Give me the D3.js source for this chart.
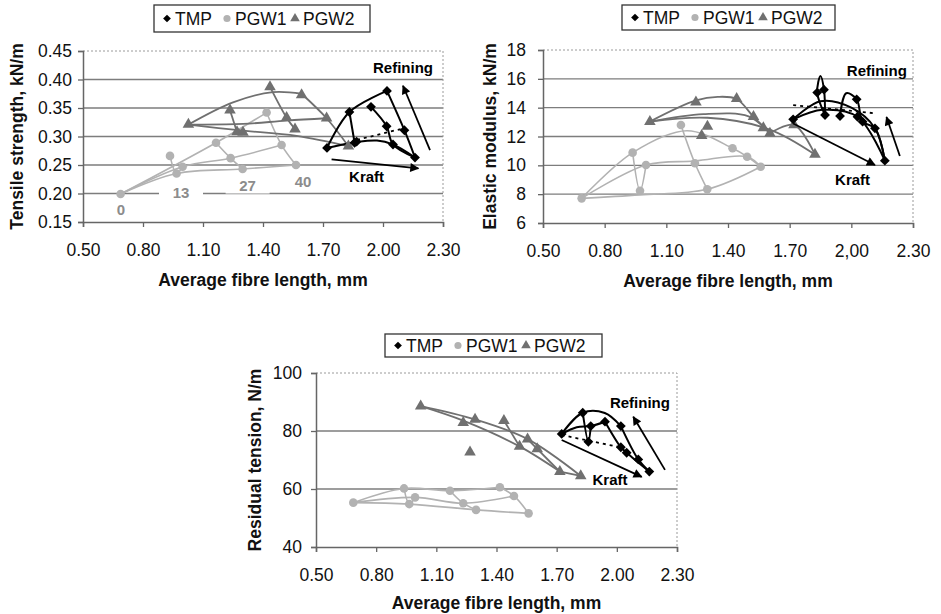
<!DOCTYPE html>
<html lang="en">
<head>
<meta charset="UTF-8">
<title>Fibre length charts</title>
<script src="https://d3js.org/d3.v7.min.js"></script>
<style>
    body { margin: 0; background: #fff; }
    svg text { font-family: "Liberation Sans", Arial, sans-serif; }
</style>
</head>
<body>
<svg id="chart" width="941" height="614"></svg>
<script>
    // shared x axis
    var xTicks = [0.5, 0.8, 1.1, 1.4, 1.7, 2.0, 2.3];
    var xLabels = ["0.50", "0.80", "1.10", "1.40", "1.70", "2.00", "2.30"];
    var xLabelsComma = ["0.50", "0.80", "1.10", "1.40", "1.70", "2,00", "2.30"];
    var seriesNames = ["TMP", "PGW1", "PGW2"];

    // ---- tensile strength, kN/m
    var tensileTicks = [0.15, 0.20, 0.25, 0.30, 0.35, 0.40, 0.45];
    var tensileLabels = ["0.15", "0.20", "0.25", "0.30", "0.35", "0.40", "0.45"];
    var tensileTMP = [[1.72, 0.28], [1.832, 0.343], [1.858, 0.289], [1.868, 0.291], [1.94, 0.352], [2.018, 0.318],
        [2.05, 0.286], [2.02, 0.38], [2.107, 0.311], [2.16, 0.263]];
    var tensileTMPLines = [
        [[1.72, 0.28], [1.832, 0.343], [2.02, 0.38]],
        [[2.02, 0.38], [2.107, 0.311], [2.16, 0.263]],
        [[1.832, 0.343], [1.858, 0.289]],
        [[1.94, 0.352], [2.018, 0.318], [2.05, 0.286], [2.16, 0.263]],
        [[1.72, 0.28], [1.863, 0.29], [1.97, 0.293], [2.05, 0.286], [2.16, 0.263]]
    ];
    var tensilePGW1 = [[0.688, 0.199], [0.935, 0.266], [0.998, 0.247], [0.968, 0.235], [1.165, 0.289], [1.238, 0.262],
        [1.298, 0.243], [1.418, 0.342], [1.493, 0.285], [1.565, 0.25]];
    var tensilePGW1Lines = [
        [[0.688, 0.199], [1.165, 0.289], [1.418, 0.342]],
        [[0.688, 0.199], [0.998, 0.247], [1.238, 0.262], [1.493, 0.285]],
        [[0.688, 0.199], [0.968, 0.235], [1.298, 0.243], [1.565, 0.25]],
        [[0.935, 0.266], [0.968, 0.235], [0.998, 0.247]],
        [[1.165, 0.289], [1.238, 0.262], [1.298, 0.243]],
        [[1.418, 0.342], [1.493, 0.285], [1.565, 0.25]]
    ];
    var tensilePGW2 = [[1.027, 0.321], [1.235, 0.346], [1.27, 0.308], [1.30, 0.307], [1.435, 0.387], [1.518, 0.333],
        [1.56, 0.313], [1.593, 0.373], [1.718, 0.332], [1.827, 0.283]];
    var tensilePGW2Lines = [
        [[1.027, 0.321], [1.25, 0.36], [1.45, 0.378], [1.593, 0.375]],
        [[1.593, 0.375], [1.718, 0.332], [1.827, 0.283]],
        [[1.435, 0.387], [1.518, 0.333], [1.56, 0.313]],
        [[1.235, 0.346], [1.27, 0.308]],
        [[1.027, 0.321], [1.3, 0.322], [1.518, 0.328], [1.718, 0.332]],
        [[1.027, 0.321], [1.277, 0.311], [1.568, 0.301], [1.827, 0.283]]
    ];
    var tensileDotted = [[1.87, 0.294], [2.11, 0.315]];
    var tensileArrows = [[[2.235, 0.276], [2.10, 0.389]], [[1.743, 0.26], [2.177, 0.244]]];
    var tensileNotes = [["Refining", 2.10, 0.42], ["Kraft", 1.918, 0.229]];
    var kraftLabels = ["0", "13", "27", "40"];
    var kraftLabelAt = [[0.69, 0.171], [0.99, 0.201], [1.323, 0.214], [1.60, 0.221]];

    // ---- elastic modulus, kN/m
    var modulusTicks = [6, 8, 10, 12, 14, 16, 18];
    var modulusLabels = ["6", "8", "10", "12", "14", "16", "18"];
    var modulusTMP = [[1.717, 13.19], [1.834, 15.05], [1.867, 15.25], [1.872, 13.49], [1.945, 13.42], [2.026, 14.58],
        [2.03, 13.37], [2.055, 13.03], [2.115, 12.57], [2.163, 10.32]];
    var modulusTMPLines = [
        [[1.717, 13.19], [1.85, 14.45], [2.0, 14.0], [2.115, 12.57], [2.163, 10.32]],
        [[1.717, 13.19], [1.86, 13.85], [2.03, 13.37], [2.163, 10.32]],
        [[1.872, 13.49], [1.834, 15.05], [1.85, 16.2], [1.867, 15.25], [1.872, 13.49]],
        [[1.945, 13.42], [1.975, 15.0], [2.026, 14.58], [2.055, 13.03], [2.115, 12.57], [2.163, 10.32]]
    ];
    var modulusPGW1 = [[0.688, 7.71], [0.936, 10.88], [1.001, 10.02], [0.972, 8.24], [1.171, 12.8], [1.239, 10.14],
        [1.299, 8.34], [1.422, 11.18], [1.493, 10.6], [1.559, 9.9]];
    var modulusPGW1Lines = [
        [[0.688, 7.71], [0.936, 10.88], [1.2, 12.4], [1.422, 11.18], [1.493, 10.6], [1.559, 9.9]],
        [[0.688, 7.71], [1.001, 10.02], [1.239, 10.3], [1.493, 10.6], [1.559, 9.9]],
        [[0.688, 7.71], [0.972, 7.95], [1.299, 8.34], [1.559, 9.9]],
        [[0.936, 10.88], [0.972, 8.24], [1.001, 10.02]],
        [[1.171, 12.8], [1.239, 10.14], [1.299, 8.34]]
    ];
    var modulusPGW2 = [[1.02, 13.03], [1.244, 14.38], [1.442, 14.62], [1.3, 12.7], [1.272, 12.05], [1.524, 13.37],
        [1.572, 12.6], [1.604, 12.22], [1.721, 12.8], [1.823, 10.75]];
    var modulusPGW2Lines = [
        [[1.02, 13.03], [1.244, 14.5], [1.35, 14.75], [1.442, 14.6], [1.524, 13.37], [1.604, 12.22]],
        [[1.02, 13.03], [1.28, 13.55], [1.5, 13.4], [1.604, 12.22]],
        [[1.02, 13.03], [1.3, 13.3], [1.6, 12.5], [1.823, 10.75]],
        [[1.604, 12.22], [1.721, 12.8], [1.823, 10.75]]
    ];
    var modulusDotted = [[1.717, 14.18], [2.122, 13.6]];
    var modulusArrows = [[[2.236, 10.65], [2.171, 13.35]], [[1.717, 12.9], [2.115, 10.02]]];
    var modulusNotes = [["Refining", 2.124, 16.56], ["Kraft", 2.006, 8.98]];

    // ---- residual tension, N/m
    var residualTicks = [40, 60, 80, 100];
    var residualLabels = ["40", "60", "80", "100"];
    var residualTMP = [[1.725, 79], [1.83, 86.3], [1.87, 81.7], [1.858, 76.3], [1.941, 83.2], [2.02, 81.7],
        [2.02, 74.4], [2.049, 72.5], [2.107, 70.2], [2.162, 66]];
    var residualTMPLines = [
        [[1.725, 79], [1.83, 86.3], [1.94, 86.2], [2.02, 81.7]],
        [[2.02, 81.7], [2.107, 70.2], [2.162, 66]],
        [[1.725, 79], [1.8, 81.3], [1.87, 81.7], [1.941, 83.2]],
        [[1.941, 83.2], [2.02, 74.4], [2.049, 72.5], [2.162, 66]],
        [[1.83, 86.3], [1.858, 76.3], [1.87, 81.7]]
    ];
    var residualPGW1 = [[0.686, 55.3], [0.939, 60.2], [0.994, 57.1], [0.965, 54.8], [1.168, 59.4], [1.234, 55.1],
        [1.298, 52.8], [1.417, 60.6], [1.487, 57.6], [1.56, 51.6]];
    var residualPGW1Lines = [
        [[0.686, 55.3], [0.939, 60.2], [1.168, 59.4], [1.417, 60.6]],
        [[0.686, 55.3], [0.994, 57.1], [1.234, 55.1], [1.487, 57.6]],
        [[0.686, 55.3], [0.965, 54.8], [1.298, 52.8], [1.56, 51.6]],
        [[0.939, 60.2], [0.965, 54.8], [0.994, 57.1]],
        [[1.168, 59.4], [1.234, 55.1], [1.298, 52.8]],
        [[1.417, 60.6], [1.487, 57.6], [1.56, 51.6]]
    ];
    var residualPGW2 = [[1.022, 88.6], [1.234, 82.9], [1.293, 84], [1.437, 83.6], [1.268, 72.7], [1.515, 74.7],
        [1.555, 77.2], [1.603, 73.8], [1.716, 66], [1.82, 64.5]];
    var residualPGW2Lines = [
        [[1.022, 88.6], [1.293, 84], [1.555, 77.2], [1.82, 64.5]],
        [[1.022, 88.6], [1.234, 83.6], [1.515, 74.7], [1.716, 66]],
        [[1.716, 66], [1.82, 64.5]],
        [[1.437, 83.6], [1.515, 74.7]],
        [[1.555, 77.2], [1.603, 73.8], [1.716, 66]]
    ];
    var residualDotted = [[1.725, 78.6], [2.016, 74.4]];
    var residualArrows = [[[2.24, 66.6], [2.082, 84.9]], [[1.725, 76.9], [2.124, 64.2]]];
    var residualNotes = [["Refining", 2.115, 89.8], ["Kraft", 1.966, 63.3]];

    var colours = {TMP: "#000", PGW1: "#b2b2b2", PGW2: "#707070"};
    var widths = {TMP: 2, PGW1: 1.6, PGW2: 1.8};
    var symbols = {TMP: d3.symbolSquare, PGW1: d3.symbolCircle, PGW2: d3.symbolTriangle};
    var turn = {TMP: 45, PGW1: 0, PGW2: 0};

    var panels = [
        {left: 83, right: 443, top: 51, bottom: 222, yTicks: tensileTicks, yLabels: tensileLabels, xLabels: xLabels,
         yTitle: "Tensile strength, kN/m", titleX: 17, labelGap: 6, legend: [154, 5, 216, 27],
         series: {TMP: [tensileTMP, tensileTMPLines], PGW1: [tensilePGW1, tensilePGW1Lines], PGW2: [tensilePGW2, tensilePGW2Lines]},
         dotted: tensileDotted, arrows: tensileArrows, notes: tensileNotes, xTitleY: 286},
        {left: 543, right: 913, top: 50, bottom: 223, yTicks: modulusTicks, yLabels: modulusLabels, xLabels: xLabelsComma,
         yTitle: "Elastic modulus, kN/m", titleX: 490, labelGap: 12, legend: [622, 5, 213, 25],
         series: {TMP: [modulusTMP, modulusTMPLines], PGW1: [modulusPGW1, modulusPGW1Lines], PGW2: [modulusPGW2, modulusPGW2Lines]},
         dotted: modulusDotted, arrows: modulusArrows, notes: modulusNotes, xTitleY: 287},
        {left: 316, right: 677, top: 373, bottom: 547, yTicks: residualTicks, yLabels: residualLabels, xLabels: xLabels,
         yTitle: "Residual tension, N/m", titleX: 255, labelGap: 9, legend: [385, 334, 217, 23],
         series: {TMP: [residualTMP, residualTMPLines], PGW1: [residualPGW1, residualPGW1Lines], PGW2: [residualPGW2, residualPGW2Lines]},
         dotted: residualDotted, arrows: residualArrows, notes: residualNotes, xTitleY: 609}
    ];

    var svg = d3.select("#chart");

    svg.append("defs").append("marker")
        .attr("id", "head")
        .attr("viewBox", "0 0 10 10")
        .attr("refX", 9).attr("refY", 5)
        .attr("markerWidth", 6).attr("markerHeight", 5)
        .attr("markerUnits", "strokeWidth")
        .attr("orient", "auto")
        .append("path").attr("d", "M0,0 L10,5 L0,10 z").attr("fill", "#000");

    panels.forEach(function(p, pi) {
        var g = svg.append("g");
        var x = d3.scaleLinear().domain([0.5, 2.3]).range([p.left, p.right]);
        var yDom = d3.extent(p.yTicks);
        var y = d3.scaleLinear().domain(yDom).range([p.bottom, p.top]);

        // gridlines
        g.selectAll("line.grid")
            .data(p.yTicks.slice(1, -1))
            .join("line")
            .attr("x1", p.left).attr("x2", p.right)
            .attr("y1", d => y(d)).attr("y2", d => y(d))
            .attr("stroke", "#7d7d7d").attr("stroke-width", 1.3);

        // dashed plot border (top, right)
        g.append("path")
            .attr("d", "M" + p.left + "," + y(yDom[1]) + "H" + p.right + "V" + p.bottom)
            .attr("fill", "none").attr("stroke", "#9a9a9a").attr("stroke-width", 1)
            .attr("stroke-dasharray", "2,2");

        // axes
        var ya = g.append("g")
            .attr("transform", "translate(" + p.left + ",0)")
            .call(d3.axisLeft(y).tickValues(p.yTicks).tickFormat((d, i) => p.yLabels[i])
                .tickSize(5).tickPadding(p.labelGap));
        var xa = g.append("g")
            .attr("transform", "translate(0," + p.bottom + ")")
            .call(d3.axisBottom(x).tickValues(xTicks).tickFormat((d, i) => p.xLabels[i])
                .tickSize(5).tickPadding(17));
        [ya, xa].forEach(function(a) {
            a.select(".domain").attr("stroke", "#666").attr("stroke-width", 1.5);
            a.selectAll(".tick line").attr("stroke", "#666").attr("stroke-width", 1.3);
            a.selectAll("text").attr("font-size", 17.5).attr("fill", "#111")
                .attr("font-family", "Liberation Sans, Arial, sans-serif");
        });

        // axis titles
        g.append("text")
            .attr("transform", "translate(" + p.titleX + "," + ((p.top + p.bottom) / 2) + ") rotate(-90)")
            .attr("text-anchor", "middle").attr("dy", "0.35em")
            .attr("font-size", 17.5).attr("font-weight", "bold").attr("fill", "#111")
            .text(p.yTitle);
        g.append("text")
            .attr("x", (p.left + p.right) / 2).attr("y", p.xTitleY)
            .attr("text-anchor", "middle")
            .attr("font-size", 17.5).attr("font-weight", "bold").attr("fill", "#111")
            .text("Average fibre length, mm");

        // series lines
        var line = d3.line().x(d => x(d[0])).y(d => y(d[1])).curve(d3.curveCatmullRom.alpha(0.5));
        ["PGW1", "PGW2", "TMP"].forEach(function(s) {
            g.append("g").selectAll("path")
                .data(p.series[s][1])
                .join("path")
                .attr("d", line)
                .attr("fill", "none")
                .attr("stroke", colours[s])
                .attr("stroke-width", widths[s]);
        });

        // dotted line
        g.append("path")
            .attr("d", d3.line().x(d => x(d[0])).y(d => y(d[1]))(p.dotted))
            .attr("stroke", "#000").attr("stroke-width", 1.8)
            .attr("stroke-dasharray", "3,4").attr("fill", "none");

        // markers
        ["PGW1", "PGW2", "TMP"].forEach(function(s) {
            g.append("g").selectAll("path")
                .data(p.series[s][0])
                .join("path")
                .attr("transform", d => "translate(" + x(d[0]) + "," + y(d[1]) + ") rotate(" + turn[s] + ")")
                .attr("d", d3.symbol().type(symbols[s]).size(s == "TMP" ? 48 : 58))
                .attr("fill", colours[s]);
        });

        // arrows
        g.append("g").selectAll("line")
            .data(p.arrows)
            .join("line")
            .attr("x1", d => x(d[0][0])).attr("y1", d => y(d[0][1]))
            .attr("x2", d => x(d[1][0])).attr("y2", d => y(d[1][1]))
            .attr("stroke", "#000").attr("stroke-width", 1.8)
            .attr("marker-end", "url(#head)");

        g.append("g").selectAll("text")
            .data(p.notes)
            .join("text")
            .attr("x", d => x(d[1])).attr("y", d => y(d[2]))
            .attr("dy", "0.35em").attr("text-anchor", "middle")
            .attr("font-size", 15).attr("font-weight", "bold").attr("fill", "#000")
            .text(d => d[0]);

        // legend
        var L = p.legend;
        var lg = g.append("g").attr("transform", "translate(" + L[0] + "," + L[1] + ")");
        lg.append("rect").attr("width", L[2]).attr("height", L[3])
            .attr("fill", "#fff").attr("stroke", "#333").attr("stroke-width", 1.3);
        var offs = [13, 73, 141];
        seriesNames.forEach(function(s, i) {
            lg.append("path")
                .attr("transform", "translate(" + offs[i] + "," + (L[3] / 2) + ") rotate(" + turn[s] + ")")
                .attr("d", d3.symbol().type(symbols[s]).size(s == "TMP" ? 30 : 40))
                .attr("fill", colours[s]);
            lg.append("text")
                .attr("x", offs[i] + 8).attr("y", L[3] / 2)
                .attr("dy", "0.36em")
                .attr("font-size", 17.5).attr("fill", "#111")
                .text(s);
        });

        // kraft share labels (first panel only)
        if (pi == 0) {
            var kl = g.append("g").selectAll("g")
                .data(kraftLabels)
                .join("g")
                .attr("transform", (d, i) => "translate(" + x(kraftLabelAt[i][0]) + "," + y(kraftLabelAt[i][1]) + ")");
            kl.append("rect")
                .attr("x", d => -d.length * 5 - 12).attr("y", -8)
                .attr("width", d => d.length * 10 + 24).attr("height", 16)
                .attr("fill", "#fff");
            kl.append("text")
                .attr("text-anchor", "middle").attr("dy", "0.35em")
                .attr("font-size", 15).attr("font-weight", "bold").attr("fill", "#8c8c8c")
                .text(d => d);
        }
    });
</script>
</body>
</html>
